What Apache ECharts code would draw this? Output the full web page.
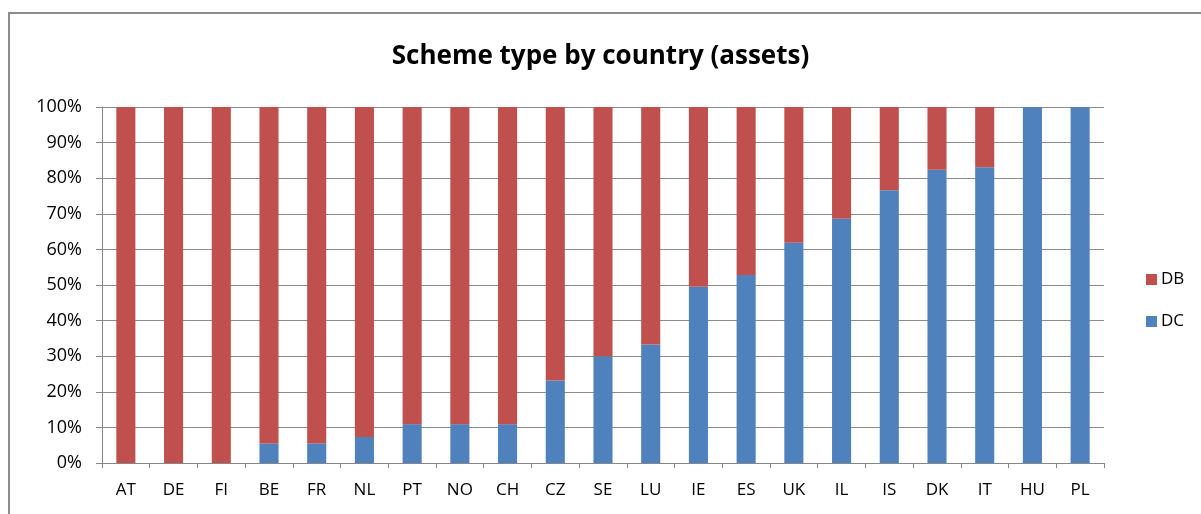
<!DOCTYPE html>
<html>
<head>
<meta charset="utf-8">
<script src="https://cdn.jsdelivr.net/npm/echarts@6/dist/echarts.min.js"></script>
<style>
html, body { margin: 0; padding: 0; background: #fff; }
#chart { width: 1201px; height: 514px; }
</style>
</head>
<body>
<div id="chart"></div>
<script>
// countries and DC share of assets (%), DB is the remainder
var countries = ['AT', 'DE', 'FI', 'BE', 'FR', 'NL', 'PT', 'NO', 'CH', 'CZ', 'SE', 'LU', 'IE', 'ES', 'UK', 'IL', 'IS', 'DK', 'IT', 'HU', 'PL'];
var dcShare = [0, 0, 0, 5.5, 5.5, 7.3, 10.9, 10.9, 10.9, 23.2, 30.0, 33.3, 49.5, 52.8, 61.9, 68.6, 76.6, 82.4, 83.1, 100, 100];
var dbShare = [100, 100, 100, 94.5, 94.5, 92.7, 89.1, 89.1, 89.1, 76.8, 70.0, 66.7, 50.5, 47.2, 38.1, 31.4, 23.4, 17.6, 16.9, 0, 0];
var yTicks = [0, 10, 20, 30, 40, 50, 60, 70, 80, 90, 100];

var myChart = echarts.init(document.getElementById('chart'));
var font = 'Open Sans';
var option = {
	backgroundColor: '#fff',
	animation: false,
	graphic: [{
		type: 'rect',
		shape: { x: 9, y: 13, width: 1300, height: 600 },
		style: { fill: 'none', stroke: '#8c8c8c', lineWidth: 2 }
	}],
	title: {
		text: 'Scheme type by country (assets)',
		left: 'center',
		top: 39,
		textStyle: { fontFamily: font, fontWeight: 'bold', fontSize: 26, color: '#000' }
	},
	legend: {
		orient: 'vertical',
		left: 1141,
		top: 266,
		itemWidth: 11,
		itemHeight: 11,
		itemGap: 25,
		icon: 'rect',
		data: ['DB', 'DC'],
		textStyle: { fontFamily: font, fontSize: 17, color: '#000', padding: [0, 0, 0, -1] }
	},
	grid: { left: 102, right: 97, top: 107, bottom: 51, containLabel: false },
	xAxis: {
		type: 'category',
		data: countries,
		axisLine: { lineStyle: { color: '#868686', width: 1 } },
		axisTick: { show: true, length: 5, lineStyle: { color: '#868686' } },
		axisLabel: { fontFamily: font, fontSize: 17, color: '#000', margin: 19 }
	},
	yAxis: {
		type: 'value',
		min: 0,
		max: 100,
		interval: 10,
		axisLine: { show: true, lineStyle: { color: '#868686' } },
		axisTick: { show: true, length: 6, lineStyle: { color: '#868686' } },
		splitLine: { lineStyle: { color: '#8c8c8c', width: 1 } },
		axisLabel: {
			fontFamily: font, fontSize: 18, color: '#000', margin: 20,
			formatter: function (v) { return yTicks.indexOf(v) >= 0 ? v + '%' : ''; }
		}
	},
	series: [
		{
			name: 'DC',
			type: 'bar',
			stack: 'total',
			barCategoryGap: '60%',
			itemStyle: { color: '#4f81bd' },
			data: dcShare
		},
		{
			name: 'DB',
			type: 'bar',
			stack: 'total',
			barCategoryGap: '60%',
			itemStyle: { color: '#c0504d' },
			data: dbShare
		}
	]
};
myChart.setOption(option);
</script>
</body>
</html>
